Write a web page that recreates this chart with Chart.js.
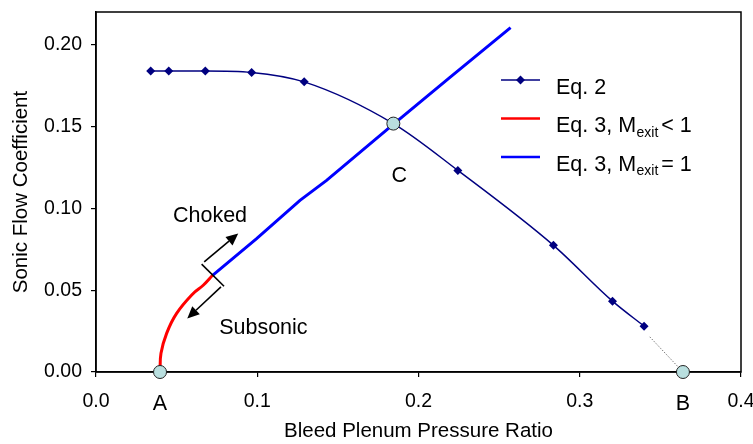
<!DOCTYPE html>
<html lang="en">
  <head>
    <meta charset="UTF-8" />
    <title>Sonic Flow Coefficient</title>
    <script src="https://cdn.jsdelivr.net/npm/chart.js"></script>
    <style>
      html, body { margin: 0; padding: 0; background: #fff; }
    </style>
  </head>
  <body>
    <canvas id="flowChart" width="753" height="444"></canvas>
    <script>
      // Eq. 2 (diamonds, smooth line); the 6th point sits under C
      const eq2X = [0.0339, 0.0451, 0.0678, 0.0965, 0.1291, 0.1844, 0.2244, 0.2837, 0.3203, 0.3399];
      const eq2Y = [0.1840, 0.1840, 0.1840, 0.1831, 0.1773, 0.1518, 0.1232, 0.0774, 0.0433, 0.0280];
      // dotted extension of Eq. 2 down to B
      const extX = [0.3434, 0.3640];
      const extY = [0.0215, 0.0];
      // Eq. 3, M_exit < 1 (subsonic, red)
      const subX = [0.0397, 0.0403, 0.0438, 0.0500, 0.0603, 0.0665, 0.0723];
      const subY = [0.0, 0.0114, 0.0236, 0.0358, 0.0480, 0.0530, 0.0591];
      // Eq. 3, M_exit = 1 (choked, blue)
      const chokX = [0.0723, 0.0996, 0.1265, 0.1430, 0.1847, 0.2195, 0.2571];
      const chokY = [0.0591, 0.0815, 0.1049, 0.1171, 0.1516, 0.1801, 0.2105];
      // named points A, B, C
      const ptNames = ["A", "B", "C"];
      const ptX = [0.0397, 0.3640, 0.1844];
      const ptY = [0.0, 0.0, 0.1518];
      // text notes
      const noteText = ["Choked", "Subsonic", "C"];
      const noteX = [0.0707, 0.1038, 0.1880];
      const noteY = [0.0953, 0.0270, 0.1199];
      // break mark and arrows, [from, to]
      const breakMark = [[0.0655, 0.0659], [0.0794, 0.0524]];
      const arrowChoked = [[0.0671, 0.0673], [0.0882, 0.0846]];
      const arrowSub = [[0.0775, 0.0520], [0.0566, 0.0327]];
      // axes
      const xTicks = [0.0, 0.1, 0.2, 0.3, 0.4];
      const yTicks = [0.0, 0.05, 0.10, 0.15, 0.20];
      // legend text: main, subscript, after
      const legendParts = [["Eq. 2"], ["Eq. 3, M", "exit", "< 1"], ["Eq. 3, M", "exit", "= 1"]];

      const FONT = "Arial, 'Liberation Sans', Helvetica, sans-serif";
      Chart.defaults.font.family = FONT;
      Chart.defaults.color = "#000";

      function pts(xs, ys) {
        return xs.map((v, i) => ({ x: v, y: ys[i] }));
      }

      function arrow(ctx, x, y, seg) {
        const x0 = x.getPixelForValue(seg[0][0]), y0 = y.getPixelForValue(seg[0][1]);
        const x1 = x.getPixelForValue(seg[1][0]), y1 = y.getPixelForValue(seg[1][1]);
        const a = Math.atan2(y1 - y0, x1 - x0);
        const head = 12, half = 5.5;
        const bx = x1 - head * Math.cos(a), by = y1 - head * Math.sin(a);
        ctx.beginPath();
        ctx.moveTo(x0, y0);
        ctx.lineTo(bx, by);
        ctx.stroke();
        ctx.beginPath();
        ctx.moveTo(x1, y1);
        ctx.lineTo(bx + half * Math.sin(a), by - half * Math.cos(a));
        ctx.lineTo(bx - half * Math.sin(a), by + half * Math.cos(a));
        ctx.closePath();
        ctx.fill();
      }

      const frame = {
        id: "frame",
        beforeDatasetsDraw(chart) {
          const { ctx, chartArea: ca } = chart;
          ctx.save();
          ctx.strokeStyle = "#000";
          ctx.lineWidth = 1.5;
          ctx.strokeRect(ca.left, ca.top, ca.right - ca.left, ca.bottom - ca.top);
          ctx.restore();
        },
      };

      const extras = {
        id: "extras",
        afterDatasetsDraw(chart) {
          const { ctx, chartArea: ca, scales } = chart;
          const x = scales.x, y = scales.y;
          ctx.save();
          ctx.strokeStyle = "#000";
          ctx.fillStyle = "#000";
          ctx.lineWidth = 1.6;

          // break mark
          ctx.beginPath();
          ctx.moveTo(x.getPixelForValue(breakMark[0][0]), y.getPixelForValue(breakMark[0][1]));
          ctx.lineTo(x.getPixelForValue(breakMark[1][0]), y.getPixelForValue(breakMark[1][1]));
          ctx.stroke();
          arrow(ctx, x, y, arrowChoked);
          arrow(ctx, x, y, arrowSub);

          // notes
          ctx.font = "21.5px " + FONT;
          ctx.textAlign = "center";
          ctx.textBaseline = "middle";
          noteText.forEach((t, i) => {
            ctx.fillText(t, x.getPixelForValue(noteX[i]), y.getPixelForValue(noteY[i]));
          });
          // A and B under the axis
          ptNames.slice(0, 2).forEach((t, i) => {
            ctx.fillText(t, x.getPixelForValue(ptX[i]), ca.bottom + 32);
          });

          // legend
          const colors = ["#000080", "#ff0000", "#0000ff"];
          const lx0 = ca.right - 240, lx1 = ca.right - 201, tx = ca.right - 185;
          legendParts.forEach((parts, i) => {
            const ly = ca.top + 68 + i * 38.5;
            ctx.strokeStyle = colors[i];
            ctx.lineWidth = i === 0 ? 1.5 : 2.5;
            ctx.beginPath();
            ctx.moveTo(lx0, ly);
            ctx.lineTo(lx1, ly);
            ctx.stroke();
            if (i === 0) {
              const cx = (lx0 + lx1) / 2, r = 4.5;
              ctx.fillStyle = colors[0];
              ctx.beginPath();
              ctx.moveTo(cx, ly - r);
              ctx.lineTo(cx + r, ly);
              ctx.lineTo(cx, ly + r);
              ctx.lineTo(cx - r, ly);
              ctx.closePath();
              ctx.fill();
            }
            ctx.fillStyle = "#000";
            ctx.textAlign = "left";
            ctx.textBaseline = "alphabetic";
            const base = ly + 13.5;
            ctx.font = "21.5px " + FONT;
            ctx.fillText(parts[0], tx, base);
            if (parts.length > 1) {
              let px = tx + ctx.measureText(parts[0]).width + 0.5;
              ctx.font = "14px " + FONT;
              ctx.fillText(parts[1], px, base + 4.5);
              px += ctx.measureText(parts[1]).width + 3;
              ctx.font = "21.5px " + FONT;
              ctx.fillText(parts[2], px, base);
            }
          });
          ctx.restore();
        },
      };

      const ctx = document.getElementById("flowChart").getContext("2d");
      new Chart(ctx, {
        type: "scatter",
        data: {
          datasets: [
            {
              label: "points",
              data: pts(ptX, ptY),
              showLine: false,
              pointStyle: "circle",
              pointRadius: 6.5,
              backgroundColor: "#b9dfdf",
              borderColor: "#222",
              borderWidth: 1,
              clip: false,
              order: 0,
            },
            {
              label: "Eq. 2",
              data: pts(eq2X, eq2Y),
              showLine: true,
              borderColor: "#000080",
              backgroundColor: "#000080",
              borderWidth: 1.5,
              pointStyle: "rectRot",
              pointRadius: 4.5,
              pointBorderWidth: 0,
              cubicInterpolationMode: "monotone",
              order: 1,
            },
            {
              label: "ext",
              data: pts(extX, extY),
              showLine: true,
              borderColor: "#777",
              borderWidth: 1,
              borderDash: [1.5, 1.5],
              pointRadius: 0,
              order: 2,
            },
            {
              label: "Eq. 3, M_exit < 1",
              data: pts(subX, subY),
              showLine: true,
              borderColor: "#ff0000",
              borderWidth: 3,
              pointRadius: 0,
              tension: 0.4,
              order: 3,
            },
            {
              label: "Eq. 3, M_exit = 1",
              data: pts(chokX, chokY),
              showLine: true,
              borderColor: "#0000ff",
              borderWidth: 3,
              pointRadius: 0,
              order: 4,
            },
          ],
        },
        options: {
          responsive: false,
          animation: false,
          events: [],
          layout: { padding: { top: 12, right: 12, left: 0, bottom: 0 } },
          plugins: { legend: { display: false }, tooltip: { enabled: false } },
          scales: {
            x: {
              type: "linear",
              min: 0,
              max: 0.4,
              afterBuildTicks: (s) => { s.ticks = xTicks.map((v) => ({ value: v })); },
              afterFit: (s) => { s.height = 72; s.paddingLeft = 0; s.paddingRight = 0; },
              ticks: {
                font: { size: 19.5 },
                padding: 13,
                maxRotation: 0,
                callback: (v) => v.toFixed(1),
              },
              grid: { drawOnChartArea: false, tickLength: 5, color: "#000", lineWidth: 1.2 },
              border: { color: "#000", width: 1.5 },
              title: {
                display: true,
                text: "Bleed Plenum Pressure Ratio",
                font: { size: 20.5 },
                padding: { top: 0, bottom: 0 },
              },
            },
            y: {
              type: "linear",
              min: 0,
              max: 0.22,
              afterBuildTicks: (s) => { s.ticks = yTicks.map((v) => ({ value: v })); },
              afterFit: (s) => { s.width = 96; s.paddingTop = 0; s.paddingBottom = 0; },
              ticks: {
                font: { size: 19.5 },
                padding: 9,
                callback: (v) => v.toFixed(2),
              },
              grid: { drawOnChartArea: false, tickLength: 5, color: "#000", lineWidth: 1.2 },
              border: { color: "#000", width: 1.5 },
              title: {
                display: true,
                text: "Sonic Flow Coefficient",
                font: { size: 20.5 },
                padding: { top: 9.5, bottom: 0 },
              },
            },
          },
        },
        plugins: [frame, extras],
      });
    </script>
  </body>
</html>
